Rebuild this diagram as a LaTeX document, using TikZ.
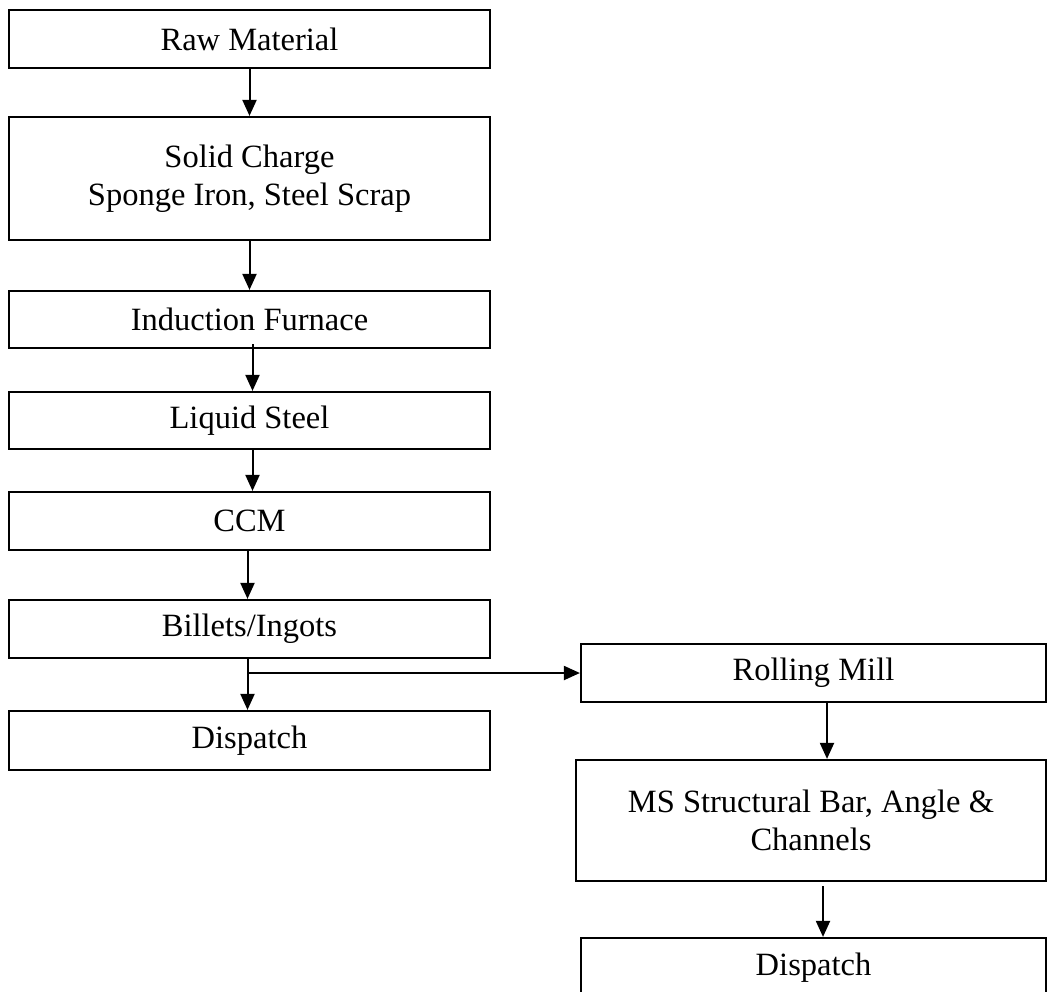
\documentclass[tikz,border=0pt]{standalone}
\usepackage{fontspec}
\setmainfont{Liberation Serif}
\usetikzlibrary{arrows.meta}

\begin{document}
\begin{tikzpicture}[x=1pt, y=-1pt, line width=2.2pt,
    box/.style = {draw, inner sep=0pt, align=center, font=\fontsize{32.5}{38}\selectfont},
    lbox/.style = {box, minimum width=481pt},
    rbox/.style = {box, minimum width=465pt},
    arr/.style = {line width=2pt, -{Triangle[length=16pt, width=14pt]}}]
    \useasboundingbox (0,0) rectangle (1048,991);

    % colonna di sinistra
    \node[lbox, minimum height=58pt] (raw) at (249.5,39) {Raw Material};
    \node[lbox, minimum height=123pt] (solid) at (249.5,178.5) {Solid Charge\\Sponge Iron, Steel Scrap};
    \node[lbox, minimum height=57pt] (furnace) at (249.5,319.5) {Induction Furnace};
    \node[lbox, minimum height=57pt] (liquid) at (249.5,420.5) {Liquid Steel};
    \node[lbox, minimum height=58pt] (ccm) at (249.5,521) {CCM};
    \node[lbox, minimum height=58pt] (billets) at (249.5,629) {Billets/Ingots};
    \node[lbox, minimum height=59pt] (dispL) at (249.5,740.5) {Dispatch};

    % colonna di destra
    \node[rbox, minimum height=58pt] (rolling) at (813.5,673) {Rolling Mill};
    \node[box, minimum width=470pt, minimum height=121pt] (ms) at (811,820.5) {MS Structural Bar, Angle \&\\Channels};
    \node[rbox, minimum height=60pt] (dispR) at (813.5,968) {Dispatch};

    % frecce
    \draw[arr] (raw) -- (solid);
    \draw[arr] (solid) -- (furnace);
    \draw[arr] ([xshift=3pt,yshift=5pt]furnace.south) -- ([xshift=3pt]liquid.north);
    \draw[arr] ([xshift=3pt]liquid.south) -- ([xshift=3pt]ccm.north);
    \draw[arr] ([xshift=-2pt]ccm.south) -- ([xshift=-2pt]billets.north);
    \draw[arr] ([xshift=-2pt]billets.south) -- ([xshift=-2pt]dispL.north);
    \coordinate (split) at ([xshift=-2pt]billets.south |- rolling.west);
    \draw[arr] (split) -- (rolling.west);
    \draw[arr] ([xshift=13.5pt]rolling.south) -- ([xshift=13.5pt]rolling.south |- ms.north);
    \draw[arr] ([xshift=12pt,yshift=-4pt]ms.south) -- ([xshift=12pt]ms.south |- dispR.north);

\end{tikzpicture}
\end{document}
